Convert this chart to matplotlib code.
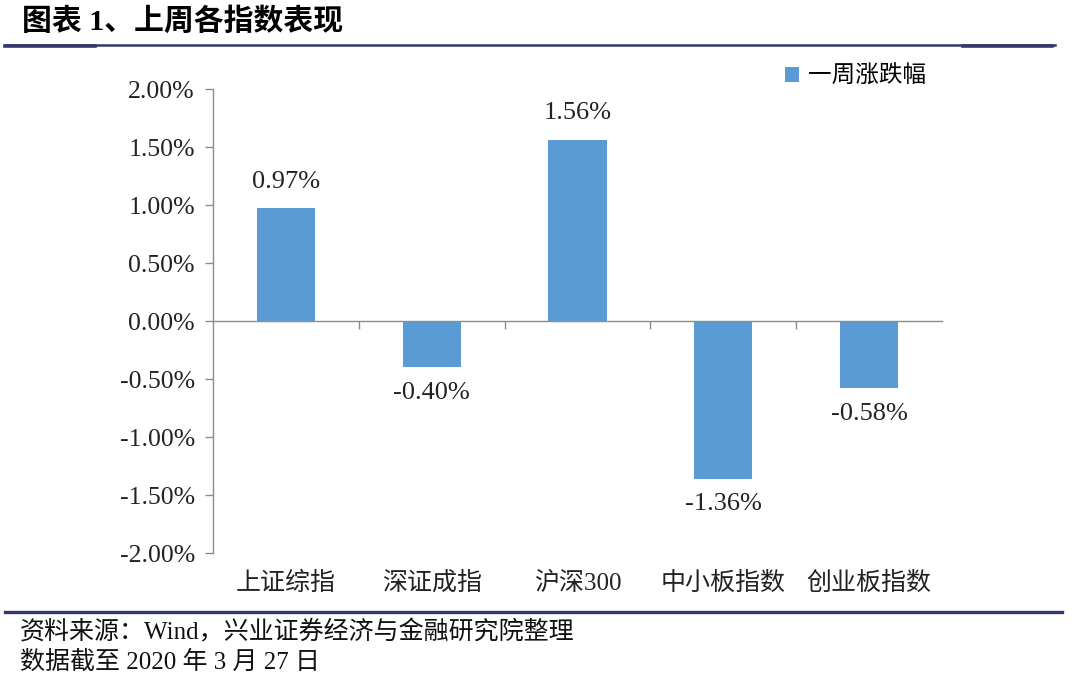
import matplotlib.pyplot as plt
from matplotlib.lines import Line2D
import matplotlib.transforms as mtransforms

plt.rcParams['font.family'] = ['Liberation Serif', 'Noto Sans CJK SC', 'DejaVu Sans']

# data
categories = ['上证综指', '深证成指', '沪深300', '中小板指数', '创业板指数']
weekly_change = [0.97, -0.40, 1.56, -1.36, -0.58]
yticks = [-2.0, -1.5, -1.0, -0.5, 0.0, 0.5, 1.0, 1.5, 2.0]

W, H = 1080, 680
fig = plt.figure(figsize=(W / 100, H / 100), dpi=100)

bar_color = '#5B9BD5'
axis_color = '#8C8C8C'
navy = '#35386A'
mixed = ['Liberation Serif', 'Noto Sans CJK SC']

# plot area in pixels
left, right, top, bottom = 213, 942, 89, 553
ax = fig.add_axes([left / W, 1 - bottom / H, (right - left) / W, (bottom - top) / H])

x = list(range(len(categories)))
bars = ax.bar(x, weekly_change, width=0.4, color=bar_color, zorder=2,
              label='一周涨跌幅')

ax.set_xlim(-0.5, len(categories) - 0.5)
ax.set_ylim(-2.0, 2.0)
ax.set_yticks(yticks)
ax.set_yticklabels([f'{v:.2f}%' for v in yticks], fontsize=18.5, color='#222222')
ax.tick_params(axis='y', direction='out', length=6, width=1, color=axis_color, pad=7)

for s in ['top', 'right']:
    ax.spines[s].set_visible(False)
ax.spines['left'].set_color(axis_color)
ax.spines['left'].set_linewidth(1)

# zero line with category boundary ticks
ax.spines['bottom'].set_position(('data', 0))
ax.spines['bottom'].set_color(axis_color)
ax.spines['bottom'].set_linewidth(1)
ax.set_xticks([i + 0.5 for i in x[:-1]], minor=True)
ax.set_xticks([])
ax.tick_params(axis='x', which='minor', direction='out', length=6, width=1, color=axis_color)

# category labels under the plot
trans = mtransforms.blended_transform_factory(ax.transData, ax.transAxes)
for i, name in enumerate(categories):
    ax.text(i, -0.065, name, transform=trans, ha='center', va='center',
            fontsize=18, family=mixed, color='#222222')

# value labels
for i, v in enumerate(weekly_change):
    off = 0.23 if v >= 0 else -0.22
    ax.text(i, v + off, f'{v:.2f}%', ha='center', va='center', fontsize=19, color='#222222')

# legend
leg = ax.legend(loc='upper left', bbox_to_anchor=(764 / W, 1 - 44 / H),
                bbox_transform=fig.transFigure, frameon=False, handlelength=0.6,
                handleheight=0.6, handletextpad=0.35,
                prop={'family': ['Noto Sans CJK SC'], 'size': 17})

# title
fig.text(22 / W, 1 - 22 / H, '图表 1、上周各指数表现', ha='left', va='center', fontsize=21.5,
         fontweight='bold', family=mixed)

# header rule
fig.add_artist(Line2D([5 / W, 1055 / W], [1 - 44.5 / H] * 2, color=navy, lw=1.8,
                      transform=fig.transFigure))
fig.add_artist(Line2D([5 / W, 95 / W], [1 - 45.5 / H] * 2, color=navy, lw=2.6,
                      transform=fig.transFigure))
fig.add_artist(Line2D([963 / W, 1052 / W], [1 - 45.5 / H] * 2, color=navy, lw=2.6,
                      transform=fig.transFigure))

# footer rule
fig.add_artist(Line2D([5 / W, 1062 / W], [1 - 612 / H] * 2, color=navy, lw=2.4,
                      transform=fig.transFigure))

# source notes
fig.text(20 / W, 1 - 632 / H, '资料来源：Wind，兴业证券经济与金融研究院整理', ha='left', va='center',
         fontsize=18, family=mixed, color='#111111')
fig.text(20 / W, 1 - 662 / H, '数据截至 2020 年 3 月 27 日', ha='left', va='center',
         fontsize=18, family=mixed, color='#111111')

fig.savefig('out.png', dpi=100)
